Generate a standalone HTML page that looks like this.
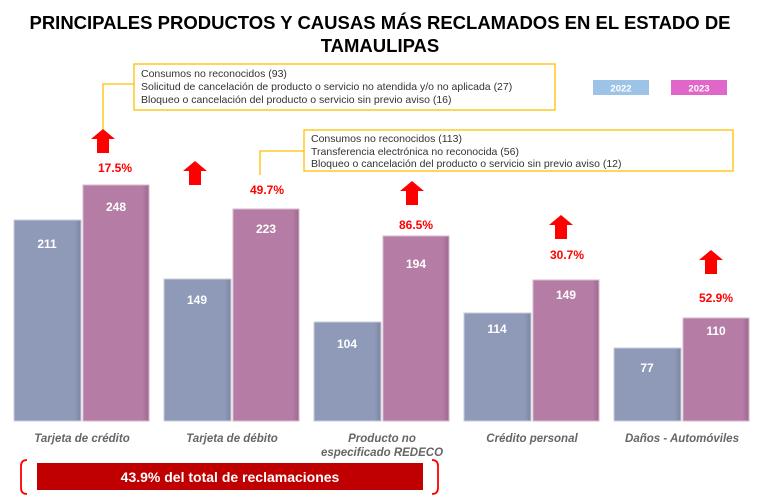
<!DOCTYPE html>
<html><head><meta charset="utf-8"><style>
body{margin:0;background:#fff;}
svg{display:block;font-family:"Liberation Sans",sans-serif;}
</style></head><body>
<svg width="775" height="504" viewBox="0 0 775 504" xmlns="http://www.w3.org/2000/svg">
<text x="380" y="29" text-anchor="middle" font-size="18.5" font-weight="bold" fill="#000">PRINCIPALES PRODUCTOS Y CAUSAS MÁS RECLAMADOS EN EL ESTADO DE</text>
<text x="380" y="52" text-anchor="middle" font-size="18.5" font-weight="bold" fill="#000">TAMAULIPAS</text>

<rect x="134" y="64" width="421" height="46" fill="#fff" stroke="#ffc000" stroke-width="1.3"/>
<text font-size="10.5" fill="#333"><tspan x="141" y="77">Consumos no reconocidos (93)</tspan><tspan x="141" y="90">Solicitud de cancelación de producto o servicio no atendida y/o no aplicada (27)</tspan><tspan x="141" y="103">Bloqueo o cancelación del producto o servicio sin previo aviso (16)</tspan></text>
<polyline points="134,84 103,84 103,130" fill="none" stroke="#ffc000" stroke-width="1.3"/>

<rect x="304" y="130" width="429" height="41" fill="#fff" stroke="#ffc000" stroke-width="1.3"/>
<text font-size="10.5" fill="#333"><tspan x="311" y="142">Consumos no reconocidos (113)</tspan><tspan x="311" y="155">Transferencia electrónica no reconocida (56)</tspan><tspan x="311" y="167">Bloqueo o cancelación del producto o servicio sin previo aviso (12)</tspan></text>
<polyline points="304,151 260,151 260,175" fill="none" stroke="#ffc000" stroke-width="1.3"/>

<rect x="593" y="80" width="56" height="15" fill="#9dc3e6"/>
<text x="621" y="91.5" text-anchor="middle" font-size="9.5" font-weight="bold" fill="#fff">2022</text>
<rect x="671" y="80" width="56" height="15" fill="#e066c9"/>
<text x="699" y="91.5" text-anchor="middle" font-size="9.5" font-weight="bold" fill="#fff">2023</text>

<defs>
<linearGradient id="b" x1="0" x2="1"><stop offset="0" stop-color="#8e9ab8"/><stop offset="0.9" stop-color="#8e9ab8"/><stop offset="1" stop-color="#7c87a3"/></linearGradient>
<linearGradient id="p" x1="0" x2="1"><stop offset="0" stop-color="#b57da6"/><stop offset="0.9" stop-color="#b57da6"/><stop offset="1" stop-color="#9e6890"/></linearGradient>
<g id="ar"><polygon points="0,-12 12,-2 6,-2 6,12 -6,12 -6,-2 -12,-2" fill="#ff0000"/></g>
</defs>

<g font-size="12" font-weight="bold" fill="#fff" text-anchor="middle">
<rect x="14" y="220" width="67" height="201" fill="url(#b)" stroke="#c8ccd8" stroke-width="1"/>
<text x="47" y="248">211</text>
<rect x="83" y="185" width="66" height="236" fill="url(#p)" stroke="#d6b8cc" stroke-width="1"/>
<text x="116" y="211">248</text>

<rect x="164" y="279" width="67" height="142" fill="url(#b)" stroke="#c8ccd8"/>
<text x="197" y="304">149</text>
<rect x="233" y="209" width="66" height="212" fill="url(#p)" stroke="#d6b8cc"/>
<text x="266" y="233">223</text>

<rect x="314" y="322" width="67" height="99" fill="url(#b)" stroke="#c8ccd8"/>
<text x="347" y="348">104</text>
<rect x="383" y="236" width="66" height="185" fill="url(#p)" stroke="#d6b8cc"/>
<text x="416" y="268">194</text>

<rect x="464" y="313" width="67" height="108" fill="url(#b)" stroke="#c8ccd8"/>
<text x="497" y="333">114</text>
<rect x="533" y="280" width="66" height="141" fill="url(#p)" stroke="#d6b8cc"/>
<text x="566" y="299">149</text>

<rect x="614" y="348" width="67" height="73" fill="url(#b)" stroke="#c8ccd8"/>
<text x="647" y="372">77</text>
<rect x="683" y="318" width="66" height="103" fill="url(#p)" stroke="#d6b8cc"/>
<text x="716" y="335">110</text>
</g>

<use href="#ar" x="103" y="141"/>
<use href="#ar" x="195" y="173"/>
<use href="#ar" x="412" y="193"/>
<use href="#ar" x="561" y="227"/>
<use href="#ar" x="711" y="262"/>

<g font-size="12" font-weight="bold" fill="#ff0000" text-anchor="middle">
<text x="115" y="172">17.5%</text>
<text x="267" y="194">49.7%</text>
<text x="416" y="229">86.5%</text>
<text x="567" y="259">30.7%</text>
<text x="716" y="302">52.9%</text>
</g>

<g font-size="11.5" font-weight="bold" font-style="italic" fill="#666" text-anchor="middle">
<text x="82" y="442">Tarjeta de crédito</text>
<text x="232" y="442">Tarjeta de débito</text>
<text x="382" y="442">Producto no</text>
<text x="382" y="456">especificado REDECO</text>
<text x="532" y="442">Crédito personal</text>
<text x="682" y="442">Daños - Automóviles</text>
</g>

<path d="M27,460 Q21,460 21,466 L21,488 Q21,494 27,494" fill="none" stroke="#ff0000" stroke-width="1.8"/>
<path d="M432,460 Q438,460 438,466 L438,488 Q438,494 432,494" fill="none" stroke="#ff0000" stroke-width="1.8"/>
<rect x="37" y="463" width="386" height="27" fill="#c00000"/>
<text x="230" y="482" text-anchor="middle" font-size="14" font-weight="bold" fill="#fff">43.9% del total de reclamaciones</text>
</svg>
</body></html>
